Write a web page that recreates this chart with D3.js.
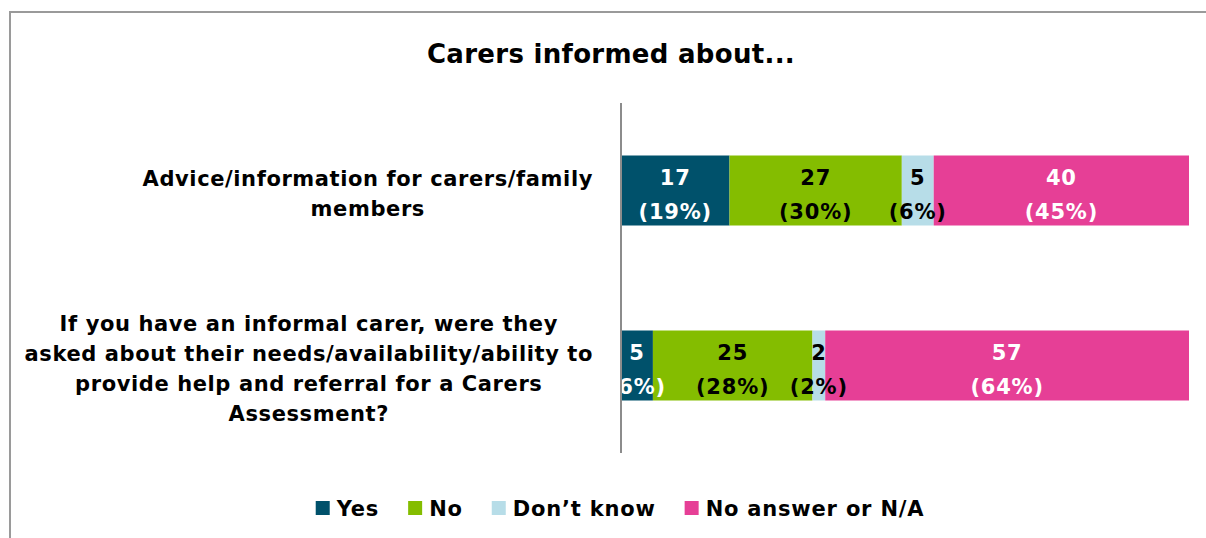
<!DOCTYPE html>
<html>
<head>
<meta charset="utf-8">
<script src="https://cdn.jsdelivr.net/npm/d3@7"></script>
<style>
  html, body { margin: 0; padding: 0; background: #fff; }
  svg { display: block; }
  text { font-family: "DejaVu Sans", Verdana, sans-serif; font-weight: bold; }
</style>
</head>
<body>
<svg id="chart" width="1206" height="538"></svg>
<script>
// Survey responses: count of respondents per answer, for each question
const categories = [
  "Advice/information for carers/family\nmembers",
  "If you have an informal carer, were they\nasked about their needs/availability/ability to\nprovide help and referral for a Carers\nAssessment?"
];
const seriesNames = ["Yes", "No", "Don\u2019t know", "No answer or N/A"];
const yesValues      = [17, 5];
const noValues       = [27, 25];
const dontKnowValues = [5, 2];
const noAnswerValues = [40, 57];
const yesPct      = [19, 6];
const noPct       = [30, 28];
const dontKnowPct = [6, 2];
const noAnswerPct = [45, 64];
const colors = ["#00516b", "#84bd00", "#b7dde8", "#e63f96"];
const labelColors = ["#ffffff", "#000000", "#000000", "#ffffff"];

const seriesValues = [yesValues, noValues, dontKnowValues, noAnswerValues];
const seriesPct = [yesPct, noPct, dontKnowPct, noAnswerPct];

const rows = categories.map((c, i) => {
  const r = { category: c };
  seriesNames.forEach((s, k) => { r[s] = seriesValues[k][i]; });
  return r;
});

const svg = d3.select("#chart");

// outer frame
svg.append("rect")
  .attr("x", 10).attr("y", 12)
  .attr("width", 1220).attr("height", 560)
  .attr("fill", "none").attr("stroke", "#9a9a9a").attr("stroke-width", 2);

// title
svg.append("text")
  .attr("x", 611).attr("y", 63)
  .attr("text-anchor", "middle")
  .attr("font-size", 26)
  .attr("letter-spacing", 0.3)
  .attr("fill", "#000")
  .text("Carers informed about...");

const plot = { left: 621, right: 1189, top: 103, bottom: 453 };
const total = d3.max(rows, r => d3.sum(seriesNames, s => r[s]));

const x = d3.scaleLinear().domain([0, total]).range([plot.left, plot.right]);
const y = d3.scaleBand().domain(categories).range([plot.top, plot.bottom]).paddingInner(0.6).paddingOuter(0.3);

const stack = d3.stack().keys(seriesNames);
const layers = stack(rows);

const g = svg.append("g");
layers.forEach((layer, k) => {
  g.selectAll(null)
    .data(layer)
    .enter().append("rect")
    .attr("x", d => x(d[0]))
    .attr("y", d => y(d.data.category))
    .attr("width", d => x(d[1]) - x(d[0]))
    .attr("height", y.bandwidth())
    .attr("fill", colors[k]);
});

// value labels: count above, percentage below
layers.forEach((layer, k) => {
  layer.forEach((d, i) => {
    const cx = (x(d[0]) + x(d[1])) / 2;
    const cy = y(d.data.category) + y.bandwidth() / 2;
    const t = g.append("text")
      .attr("text-anchor", "middle")
      .attr("font-size", 21)
      .attr("letter-spacing", 0.8)
      .attr("fill", labelColors[k]);
    t.append("tspan").attr("x", cx).attr("y", cy - 6).text(seriesValues[k][i]);
    t.append("tspan").attr("x", cx).attr("y", cy + 28).text("(" + seriesPct[k][i] + "%)");
  });
});

// vertical axis line
svg.append("line")
  .attr("x1", plot.left).attr("x2", plot.left)
  .attr("y1", plot.top).attr("y2", plot.bottom)
  .attr("stroke", "#8c8c8c").attr("stroke-width", 2);

// category labels: lines centred within a right-aligned block
const blockRight = 593;
const lineH = 30;
categories.forEach(c => {
  const lines = c.split("\n");
  const cy = y(c) + y.bandwidth() / 2;
  const t = svg.append("text").attr("font-size", 21).attr("fill", "#000").attr("letter-spacing", 0.6);
  const spans = lines.map((ln, j) =>
    t.append("tspan")
      .attr("y", cy + (j - (lines.length - 1) / 2) * lineH + 10)
      .text(ln));
  const widths = spans.map(s => s.node().getComputedTextLength());
  const maxW = d3.max(widths);
  const center = blockRight - maxW / 2;
  spans.forEach(s => s.attr("x", center).attr("text-anchor", "middle"));
});

// legend
const legend = svg.append("g");
let lx = 0;
seriesNames.forEach((s, k) => {
  const it = legend.append("g").attr("transform", `translate(${lx},0)`);
  it.append("rect").attr("x", 0).attr("y", -7).attr("width", 14).attr("height", 14).attr("fill", colors[k]);
  const tx = it.append("text").attr("x", 21).attr("y", 8).attr("font-size", 21).attr("letter-spacing", 0.8).attr("fill", "#000").text(s);
  lx += 21 + tx.node().getComputedTextLength() + 29;
});
const legendW = lx - 29;
legend.attr("transform", `translate(${620 - legendW / 2},508)`);
</script>
</body>
</html>
